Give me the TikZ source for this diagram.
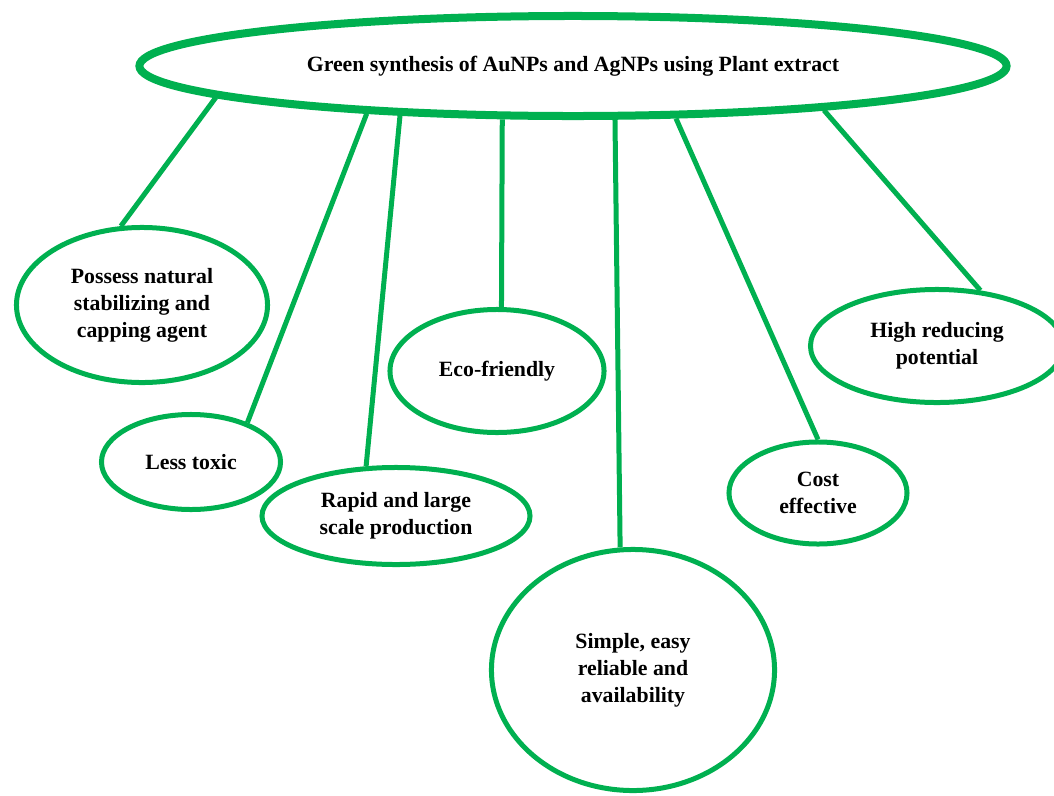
\documentclass[tikz,border=0pt]{standalone}
\usepackage{fontspec}
\setmainfont{Liberation Serif}
\usetikzlibrary{shapes.geometric}
\definecolor{leafgreen}{RGB}{0,176,80}
\begin{document}
\begin{tikzpicture}[x=0.025cm,y=-0.025cm,
    hub/.style={ellipse,draw=leafgreen,line width=0.2cm,inner sep=0pt,
      minimum width=21.675cm,minimum height=2.5cm,
      font=\bfseries\fontsize{15.5}{19.2}\selectfont},
    bubble/.style={ellipse,draw=leafgreen,line width=0.125cm,inner sep=0pt,
      align=center,font=\bfseries\fontsize{15.5}{19.2}\selectfont},
    link/.style={draw=leafgreen,line width=0.125cm}]
  \useasboundingbox (0,0) rectangle (1054,796);
  % centre
  \node[hub] (green) at (573,66) {Green synthesis of AuNPs and AgNPs using Plant extract};
  % advantages
  \node[bubble,minimum width=6.275cm,minimum height=3.875cm] (capping) at (142,305)
    {Possess natural\\stabilizing and\\capping agent};
  \node[bubble,minimum width=4.475cm,minimum height=2.375cm] (toxic) at (191,462) {Less toxic};
  \node[bubble,minimum width=6.7cm,minimum height=2.425cm] (rapid) at (396,516)
    {Rapid and large\\scale production};
  \node[bubble,minimum width=5.35cm,minimum height=3.075cm] (eco) at (497,371) {Eco-friendly};
  \node[bubble,minimum width=7.075cm,minimum height=6.025cm] (simple) at (633,670)
    {Simple, easy\\reliable and\\availability};
  \node[bubble,minimum width=4.45cm,minimum height=2.55cm] (cost) at (818,493) {Cost\\effective};
  \node[bubble,minimum width=6.325cm,minimum height=2.825cm] (reducing) at (937,346)
    {High reducing\\potential};
  % spokes
  \draw[link] (green.185.2) -- (capping.105);
  \draw[link] (green.193) -- (toxic.35);
  \draw[link] (green.196.6) -- (rapid.121);
  \draw[link] (green.217.9) -- (eco.86);
  \draw[link] (green.308.8) -- (simple.96);
  \draw[link] (green.333.5) -- (cost.90);
  \draw[link] (green.350.7) -- (reducing.52.5);
\end{tikzpicture}
\end{document}
